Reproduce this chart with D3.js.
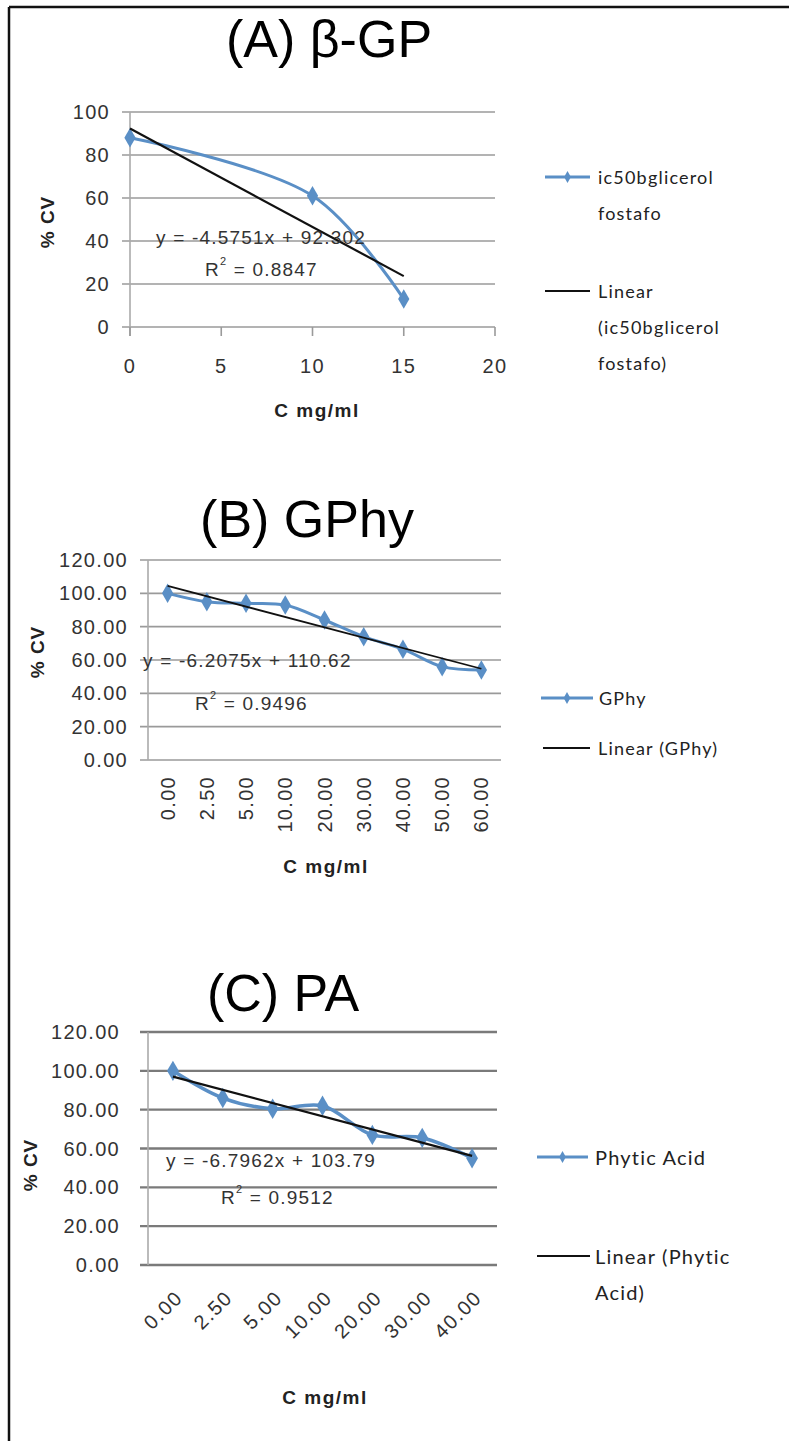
<!DOCTYPE html>
<html><head><meta charset="utf-8">
<script src="https://cdn.jsdelivr.net/npm/d3@7"></script>
<style>
html,body{margin:0;padding:0;background:#fff;}
svg{display:block;}
</style></head>
<body>
<svg id="chart" width="789" height="1441"></svg>
<script>
// ---------- data ----------
const panelTitles = ["(A) β-GP", "(B) GPhy", "(C) PA"];
// Panel A (numeric x axis)
const panelA_x = [0, 10, 15];
const panelA_y = [88, 61, 13];
const panelA_xTicks = [0, 5, 10, 15, 20];
const panelA_yTicks = [0, 20, 40, 60, 80, 100];
// Panel B (category x axis)
const panelB_categories = ["0.00", "2.50", "5.00", "10.00", "20.00", "30.00", "40.00", "50.00", "60.00"];
const panelB_values = [100, 95, 94, 93, 84, 74, 66.5, 56, 54];
const panelB_yTicks = [0, 20, 40, 60, 80, 100, 120];
// Panel C (category x axis)
const panelC_categories = ["0.00", "2.50", "5.00", "10.00", "20.00", "30.00", "40.00"];
const panelC_values = [100, 86, 80.5, 82, 67, 65.5, 55];
const panelC_yTicks = [0, 20, 40, 60, 80, 100, 120];
// linear trendlines (as printed on the chart)
const fitSlopes = [-4.5751, -6.2075, -6.7962];
const fitIntercepts = [92.302, 110.62, 103.79];
const fitLabels = ["y = -4.5751x + 92.302", "y = -6.2075x + 110.62", "y = -6.7962x + 103.79"];
const r2Labels = ["0.8847", "0.9496", "0.9512"];
const seriesNames = ["ic50bglicerol fostafo", "GPhy", "Phytic Acid"];
const legendSeriesLines = [["ic50bglicerol", "fostafo"], ["GPhy"], ["Phytic Acid"]];
const legendLinearLines = [["Linear", "(ic50bglicerol", "fostafo)"], ["Linear (GPhy)"], ["Linear (Phytic", "Acid)"]];
const axisTitleX = "C mg/ml";
const axisTitleY = "% CV";

// ---------- drawing ----------
const svg = d3.select("#chart");
const BLUE = "#5a8fc6";
const TXT = "#333";
const tickFont = "Liberation Sans, Arial, sans-serif";
const legFont = "Lato, Liberation Sans, sans-serif";

// frame
svg.append("line").attr("x1", 9).attr("y1", 7).attr("x2", 789).attr("y2", 7).attr("stroke", "#111").attr("stroke-width", 2.5);
svg.append("line").attr("x1", 9).attr("y1", 7).attr("x2", 9).attr("y2", 1441).attr("stroke", "#111").attr("stroke-width", 2.5);

const diamond = d3.symbol().type(d3.symbolDiamond);

function title(txt, cx, y) {
  svg.append("text").attr("x", cx).attr("y", y).attr("text-anchor", "middle")
    .attr("font-family", "Liberation Sans, Arial, sans-serif").attr("font-size", 52)
    .attr("fill", "#000").text(txt);
}

function axisTitles(xc, xy, yx, yy) {
  svg.append("text").attr("x", xc).attr("y", xy).attr("text-anchor", "middle").attr("dominant-baseline", "central")
    .attr("font-family", tickFont).attr("font-weight", "bold").attr("font-size", 19).attr("letter-spacing", 1.5)
    .attr("fill", "#222").text(axisTitleX);
  svg.append("text").attr("transform", `translate(${yx},${yy}) rotate(-90)`).attr("text-anchor", "middle")
    .attr("dominant-baseline", "central")
    .attr("font-family", tickFont).attr("font-weight", "bold").attr("font-size", 19).attr("letter-spacing", 1)
    .attr("fill", "#222").text(axisTitleY);
}

function yGrid(y, ticks, left, right, labelX, fmt, gridColor, gridW) {
  const g = svg.append("g");
  g.selectAll("line.grid").data(ticks).join("line").attr("class", "grid")
    .attr("x1", left - 8).attr("x2", right).attr("y1", d => y(d)).attr("y2", d => y(d))
    .attr("stroke", gridColor).attr("stroke-width", gridW);
  g.selectAll("text").data(ticks).join("text")
    .attr("x", labelX).attr("y", d => y(d)).attr("text-anchor", "end").attr("dominant-baseline", "central")
    .attr("font-family", tickFont).attr("font-size", 20).attr("letter-spacing", 1.3).attr("fill", TXT)
    .text(fmt);
}

function equation(i, x1, y1, x2, y2) {
  svg.append("text").attr("x", x1).attr("y", y1).attr("dominant-baseline", "central")
    .attr("font-family", tickFont).attr("font-size", 19).attr("letter-spacing", 1.2).attr("fill", TXT)
    .text(fitLabels[i]);
  const t = svg.append("text").attr("x", x2).attr("y", y2).attr("dominant-baseline", "central")
    .attr("font-family", tickFont).attr("font-size", 19).attr("letter-spacing", 1.2).attr("fill", TXT);
  t.append("tspan").text("R");
  t.append("tspan").attr("font-size", 11).attr("dy", -8).text("2");
  t.append("tspan").attr("dy", 8).text(" = " + r2Labels[i]);
}

function legend(i, sx1, sx2, sy, tx, lx1, lx2, ly, ltx, gap, fsize) {
  svg.append("line").attr("x1", sx1).attr("x2", sx2).attr("y1", sy).attr("y2", sy).attr("stroke", BLUE).attr("stroke-width", 3);
  svg.append("path").attr("d", diamond.size(40)()).attr("transform", `translate(${(sx1 + sx2) / 2},${sy})`).attr("fill", BLUE);
  legendSeriesLines[i].forEach((s, k) => {
    svg.append("text").attr("x", tx).attr("y", sy + k * gap).attr("dominant-baseline", "central")
      .attr("font-family", legFont).attr("font-size", fsize).attr("letter-spacing", 1.2).attr("fill", "#222").text(s);
  });
  svg.append("line").attr("x1", lx1).attr("x2", lx2).attr("y1", ly).attr("y2", ly).attr("stroke", "#111").attr("stroke-width", 2.2);
  legendLinearLines[i].forEach((s, k) => {
    svg.append("text").attr("x", ltx).attr("y", ly + k * gap).attr("dominant-baseline", "central")
      .attr("font-family", legFont).attr("font-size", fsize).attr("letter-spacing", 1.2).attr("fill", "#222").text(s);
  });
}

// ===== Panel A =====
{
  title(panelTitles[0], 329, 57);
  const x = d3.scaleLinear().domain([0, 20]).range([130, 495]);
  const y = d3.scaleLinear().domain([0, 100]).range([327, 112]);
  yGrid(y, panelA_yTicks, 130, 495, 110, d => d, "#9a9a9a", 1.6);
  // y axis line
  svg.append("line").attr("x1", 130).attr("x2", 130).attr("y1", y(100)).attr("y2", y(0) + 9).attr("stroke", "#aaa").attr("stroke-width", 1.6);
  // x ticks
  svg.selectAll("line.xtA").data(panelA_xTicks).join("line").attr("class", "xtA")
    .attr("x1", d => x(d)).attr("x2", d => x(d)).attr("y1", y(0)).attr("y2", y(0) + 9)
    .attr("stroke", "#9a9a9a").attr("stroke-width", 1.6);
  svg.selectAll("text.xlA").data(panelA_xTicks).join("text").attr("class", "xlA")
    .attr("x", d => x(d)).attr("y", 366).attr("text-anchor", "middle").attr("dominant-baseline", "central")
    .attr("font-family", tickFont).attr("font-size", 20).attr("letter-spacing", 1.3).attr("fill", TXT).text(d => d);
  // series
  const pts = panelA_x.map((v, i) => [v, panelA_y[i]]);
  svg.append("path").datum(pts).attr("fill", "none").attr("stroke", BLUE).attr("stroke-width", 3)
    .attr("d", d3.line().x(d => x(d[0])).y(d => y(d[1])).curve(d3.curveCatmullRom.alpha(0.5)));
  svg.selectAll("path.mA").data(pts).join("path").attr("class", "mA")
    .attr("d", diamond.size(110)()).attr("transform", d => `translate(${x(d[0])},${y(d[1])})`).attr("fill", BLUE);
  // trendline
  const ext = d3.extent(panelA_x);
  svg.append("line").attr("x1", x(ext[0])).attr("y1", y(fitIntercepts[0] + fitSlopes[0] * ext[0]))
    .attr("x2", x(ext[1])).attr("y2", y(fitIntercepts[0] + fitSlopes[0] * ext[1]))
    .attr("stroke", "#111").attr("stroke-width", 2.2);
  equation(0, 156, 237, 205, 269);
  axisTitles(317, 410, 47, 222);
  legend(0, 545, 590, 177, 598, 545, 590, 291, 598, 36, 18);
}

// ===== Panel B =====
{
  title(panelTitles[1], 307, 537);
  const x = d3.scaleBand().domain(panelB_categories).range([148, 501]);
  const y = d3.scaleLinear().domain([0, 120]).range([760, 560]);
  yGrid(y, panelB_yTicks, 148, 501, 128, d3.format(".2f"), "#9a9a9a", 1.6);
  svg.append("line").attr("x1", 148).attr("x2", 148).attr("y1", y(120)).attr("y2", y(0)).attr("stroke", "#aaa").attr("stroke-width", 1.6);
  svg.selectAll("text.xlB").data(panelB_categories).join("text").attr("class", "xlB")
    .attr("transform", d => `translate(${x(d) + x.bandwidth() / 2},776) rotate(-90)`)
    .attr("text-anchor", "end").attr("dy", "0.35em")
    .attr("font-family", tickFont).attr("font-size", 20).attr("letter-spacing", 1.3).attr("fill", TXT).text(d => d);
  const cx = d => x(d) + x.bandwidth() / 2;
  const pts = panelB_categories.map((c, i) => [cx(c), panelB_values[i]]);
  svg.append("path").datum(pts).attr("fill", "none").attr("stroke", BLUE).attr("stroke-width", 3)
    .attr("d", d3.line().x(d => d[0]).y(d => y(d[1])).curve(d3.curveCatmullRom.alpha(0.5)));
  svg.selectAll("path.mB").data(pts).join("path").attr("class", "mB")
    .attr("d", diamond.size(110)()).attr("transform", d => `translate(${d[0]},${y(d[1])})`).attr("fill", BLUE);
  const n = panelB_categories.length;
  svg.append("line").attr("x1", cx(panelB_categories[0])).attr("y1", y(fitIntercepts[1] + fitSlopes[1] * 1))
    .attr("x2", cx(panelB_categories[n - 1])).attr("y2", y(fitIntercepts[1] + fitSlopes[1] * n))
    .attr("stroke", "#111").attr("stroke-width", 1.8);
  equation(1, 143, 660, 195, 703);
  axisTitles(326, 866, 37, 652);
  legend(1, 541, 593, 698, 599, 543, 590, 748, 598, 36, 18);
}

// ===== Panel C =====
{
  title(panelTitles[2], 283, 1011);
  const x = d3.scaleBand().domain(panelC_categories).range([148, 497]);
  const y = d3.scaleLinear().domain([0, 120]).range([1265, 1032]);
  yGrid(y, panelC_yTicks, 148, 497, 120, d3.format(".2f"), "#7a7a7a", 2.4);
  svg.append("line").attr("x1", 148).attr("x2", 148).attr("y1", y(120)).attr("y2", y(0)).attr("stroke", "#aaa").attr("stroke-width", 1.6);
  svg.selectAll("text.xlC").data(panelC_categories).join("text").attr("class", "xlC")
    .attr("transform", d => `translate(${x(d) + x.bandwidth() / 2 + 6},1294) rotate(-45)`)
    .attr("text-anchor", "end").attr("dy", "0.35em")
    .attr("font-family", tickFont).attr("font-size", 20).attr("letter-spacing", 1.5).attr("fill", TXT).text(d => d);
  const cx = d => x(d) + x.bandwidth() / 2;
  const pts = panelC_categories.map((c, i) => [cx(c), panelC_values[i]]);
  svg.append("path").datum(pts).attr("fill", "none").attr("stroke", BLUE).attr("stroke-width", 3.5)
    .attr("d", d3.line().x(d => d[0]).y(d => y(d[1])).curve(d3.curveCatmullRom.alpha(0.5)));
  svg.selectAll("path.mC").data(pts).join("path").attr("class", "mC")
    .attr("d", diamond.size(120)()).attr("transform", d => `translate(${d[0]},${y(d[1])})`).attr("fill", BLUE);
  const n = panelC_categories.length;
  svg.append("line").attr("x1", cx(panelC_categories[0])).attr("y1", y(fitIntercepts[2] + fitSlopes[2] * 1))
    .attr("x2", cx(panelC_categories[n - 1])).attr("y2", y(fitIntercepts[2] + fitSlopes[2] * n))
    .attr("stroke", "#111").attr("stroke-width", 2.2);
  equation(2, 166, 1160, 221, 1197);
  axisTitles(325, 1397, 30, 1165);
  legend(2, 537, 588, 1157, 595, 537, 590, 1256, 595, 36, 20);
}
</script>
</body></html>
